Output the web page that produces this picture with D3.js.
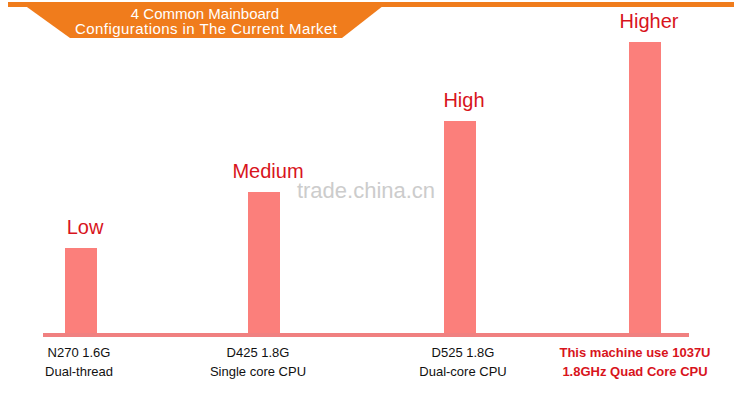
<!DOCTYPE html><html><head><meta charset="utf-8"><script src="https://d3js.org/d3.v7.min.js"></script>
<style>body{margin:0;background:#fff}</style></head><body><svg id="c" width="734" height="400"></svg>
<script>
const categories=["N270","D425","D525","1037U"];
const values=[86,142,213,292];
const levels=["Low","Medium","High","Higher"];
const line1=["N270 1.6G","D425 1.8G","D525 1.8G","This machine use 1037U"];
const line2=["Dual-thread","Single core CPU","Dual-core CPU","1.8GHz Quad Core CPU"];
const svg=d3.select("#c");
const F="Arial, Liberation Sans, sans-serif";
const x=d3.scaleOrdinal().domain(categories).range([81,264,460,645]);
const y=d3.scaleLinear().domain([0,300]).range([334,34]);
svg.append("rect").attr("x",8).attr("y",2).attr("width",726).attr("height",5).attr("fill","#f07c1c");
svg.append("path").attr("d","M20,2 L388,2 L342,38 L70,38 Z").attr("fill","#f07c1c");
svg.append("text").attr("x",205).attr("y",19).attr("text-anchor","middle").attr("fill","#fff").attr("font-family",F).attr("font-size",15).text("4 Common Mainboard");
svg.append("text").attr("x",206).attr("y",34).attr("text-anchor","middle").attr("fill","#fff").attr("font-family",F).attr("font-size",15).attr("textLength",262).text("Configurations in The Current Market");
svg.append("text").attr("x",366).attr("y",198).attr("text-anchor","middle").attr("fill","#ccc").attr("font-family",F).attr("font-size",22).text("trade.china.cn");
svg.selectAll(".b").data(values).join("rect").attr("x",(d,i)=>x(categories[i])-16).attr("width",32)
 .attr("y",d=>y(d)).attr("height",d=>y(0)-y(d)).attr("fill","#fb7f7b");
svg.append("rect").attr("x",43).attr("y",y(0)-1).attr("width",646).attr("height",4).attr("fill","#f08080");
svg.selectAll(".l").data(values).join("text").attr("x",(d,i)=>x(categories[i])+4).attr("y",d=>y(d)-14)
 .attr("text-anchor","middle").attr("fill","#d8141c").attr("font-family",F).attr("font-size",20).text((d,i)=>levels[i]);
[line1,line2].forEach((arr,k)=>{
 svg.selectAll(".t"+k).data(arr).join("text").attr("x",(d,i)=>x(categories[i])+[-2,-6,3,-10][i]).attr("y",357+k*19)
  .attr("text-anchor","middle").attr("font-family",F).attr("font-size",13)
  .attr("fill",(d,i)=>i==3?"#d8141c":"#111").attr("font-weight",(d,i)=>i==3?"bold":"normal").text(d=>d);
});
</script></body></html>
